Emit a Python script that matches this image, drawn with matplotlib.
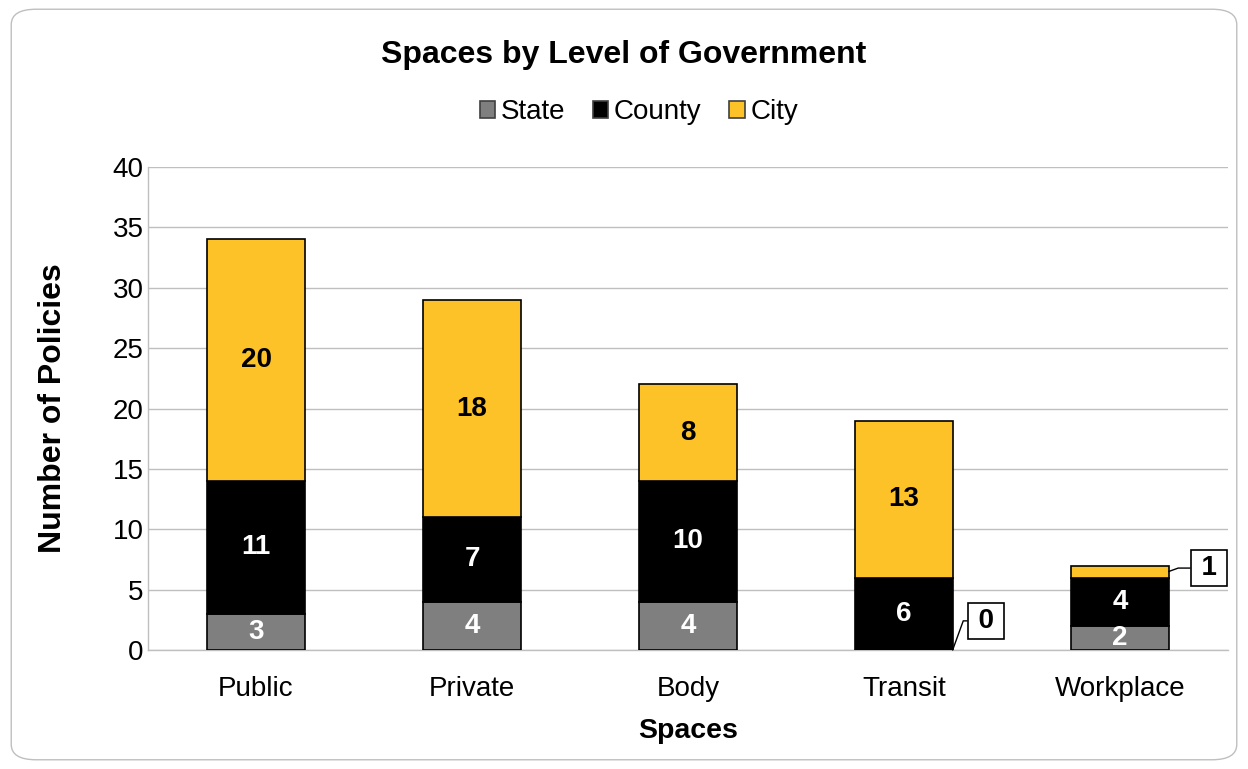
import matplotlib
matplotlib.use("Agg")
import matplotlib.pyplot as plt
from matplotlib.patches import FancyBboxPatch
import numpy as np

plt.rcParams['font.family'] = ['Liberation Sans', 'DejaVu Sans']

categories = ["Public", "Private", "Body", "Transit", "Workplace"]
state = [3, 4, 4, 0, 2]
county = [11, 7, 10, 6, 4]
city = [20, 18, 8, 13, 1]

series_names = ["State", "County", "City"]
colors = ["#7F7F7F", "#000000", "#FDC228"]
label_colors = ["white", "white", "black"]

fig = plt.figure(figsize=(12.48, 7.69), dpi=100)
ax = fig.add_axes([0.1186, 0.1547, 0.8654, 0.6281])

# rounded outer frame
frame = FancyBboxPatch((0.009, 0.012), 0.982, 0.976,
                       boxstyle="round,pad=0,rounding_size=0.02",
                       transform=fig.transFigure, facecolor="none",
                       edgecolor="#BFBFBF", linewidth=1.0, zorder=0)
fig.patches.append(frame)

x = np.arange(len(categories))
width = 0.45
bottom = np.zeros(len(categories))
all_series = [state, county, city]
containers = []
for vals, name, col in zip(all_series, series_names, colors):
    vals = np.array(vals, dtype=float)
    bars = ax.bar(x, vals, width, bottom=bottom, color=col, edgecolor="black",
                  linewidth=1.2, label=name, zorder=3)
    containers.append((bars, vals, bottom.copy()))
    bottom += vals

# value labels inside segments (small segments get callouts)
for si, (bars, vals, bot) in enumerate(containers):
    for i, v in enumerate(vals):
        if v >= 2:
            ax.text(x[i], bot[i] + v / 2, f"{int(v)}", ha="center", va="center",
                    fontsize=20, fontweight="bold", color=label_colors[si], zorder=4)

def callout(xi, yv, text, dx, dy, angleB):
    ax.annotate("\u2009" + text + "\u2009", xy=(x[xi] + width / 2, yv), xytext=(dx, dy),
                textcoords="offset points", ha="center", va="center",
                fontsize=20, fontweight="bold", color="black",
                bbox=dict(boxstyle="square,pad=0.18", facecolor="white",
                          edgecolor="black", linewidth=1.2),
                arrowprops=dict(arrowstyle="-", color="black", linewidth=1.0,
                                shrinkA=0, shrinkB=0,
                                connectionstyle=f"angle,angleA=0,angleB={angleB},rad=0"),
                zorder=5)

# Transit state = 0, Workplace city = 1
callout(3, state[3], f"{state[3]}", 24, 21, 70)
callout(4, state[4] + county[4] + city[4] / 2, f"{city[4]}", 29, 2.5, 20)

ax.set_xlim(-0.5, len(categories) - 0.5)
ax.set_ylim(0, 40)
ax.set_yticks(np.arange(0, 41, 5))
ax.set_xticks(x)
ax.set_xticklabels(categories)
ax.tick_params(axis="both", labelsize=20, length=0, colors="black")
ax.tick_params(axis="x", pad=19)
ax.tick_params(axis="y", pad=3)
ax.grid(axis="y", color="#BFBFBF", linewidth=1.0, zorder=0)
ax.set_axisbelow(True)
for s in ["top", "right"]:
    ax.spines[s].set_visible(False)
for s in ["left", "bottom"]:
    ax.spines[s].set_color("#BFBFBF")
    ax.spines[s].set_linewidth(1.0)

ax.set_xlabel("Spaces", fontsize=20.5, fontweight="bold", labelpad=11)
ax.set_ylabel("Number of Policies", fontsize=23, fontweight="bold", labelpad=32)

fig.text(0.5, 0.928, "Spaces by Level of Government", ha="center", va="center",
         fontsize=23, fontweight="bold")

leg = fig.legend(loc="center", bbox_to_anchor=(0.512, 0.854), ncol=3, frameon=False,
                 fontsize=20, handlelength=0.55, handleheight=0.55, handletextpad=0.2,
                 columnspacing=1.0)
for h in leg.legend_handles:
    h.set_edgecolor("#404040")

fig.savefig("out.png", dpi=100)
